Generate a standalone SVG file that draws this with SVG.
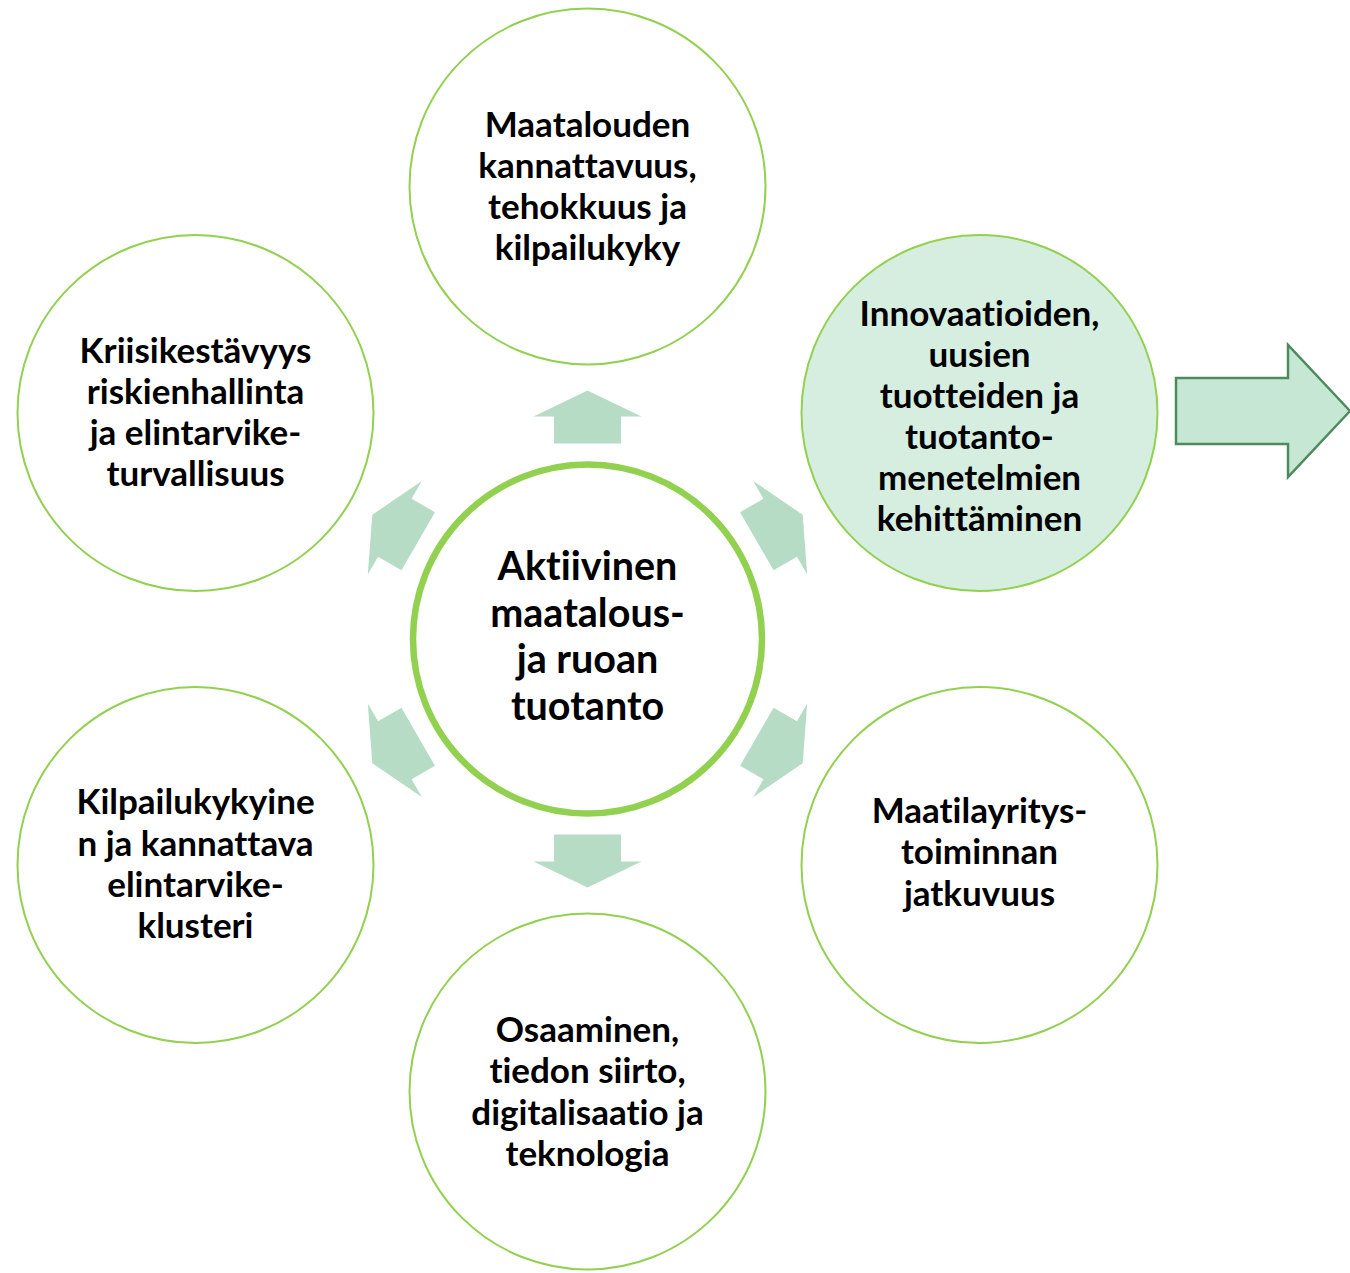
<svg xmlns="http://www.w3.org/2000/svg" width="1350" height="1273" viewBox="0 0 1350 1273">
  <defs>
    <style>
      .node { fill: #ffffff; stroke: #92d050; stroke-width: 2; }
      .hl { fill: #d5eee0; }
      .hub { fill: #ffffff; stroke: #92d050; stroke-width: 6.5; }
      .lbl { font-family: Lato, "Liberation Sans", sans-serif; font-weight: bold; font-size: 35px; fill: #000000; text-anchor: middle; font-variant-ligatures: none; }
      .hubl { font-size: 39.5px; }
      .arr { fill: #b7dcc6; }
    </style>
    <polygon id="ar" points="-33.5,-195.5 33.5,-195.5 33.5,-222.5 54,-222.5 0,-248.5 -54,-222.5 -33.5,-222.5"/>
  </defs>
  <rect width="1350" height="1273" fill="#ffffff"/>
  <g id="connectors">
    <g class="arr" transform="translate(587.5,639)">
      <use href="#ar" transform="rotate(0)"/>
      <use href="#ar" transform="rotate(60)"/>
      <use href="#ar" transform="rotate(120)"/>
      <use href="#ar" transform="rotate(180)"/>
      <use href="#ar" transform="rotate(240)"/>
      <use href="#ar" transform="rotate(300)"/>
    </g>
    <polygon points="1176,378 1288,378 1288,345 1350,411 1288,477 1288,444 1176,444" fill="#c5e7d3" stroke="#4f8a5f" stroke-width="2.5"/>
  </g>
  <g id="hub">
    <circle class="hub" cx="587.5" cy="639" r="174.5"/>
    <text class="lbl hubl"><tspan x="587.5" y="580">Aktiivinen</tspan><tspan x="587.5" y="627">maatalous-</tspan><tspan x="587.5" y="673">ja ruoan</tspan><tspan x="587.5" y="720">tuotanto</tspan></text>
  </g>
  <g id="n-top">
    <circle class="node" cx="587.5" cy="186.5" r="178"/>
    <text class="lbl"><tspan x="587.5" y="136.5">Maatalouden</tspan><tspan x="587.5" y="177.5">kannattavuus,</tspan><tspan x="587.5" y="218.5">tehokkuus ja</tspan><tspan x="587.5" y="259.5">kilpailukyky</tspan></text>
  </g>
  <g id="n-upper-right">
    <circle class="node hl" cx="979.5" cy="413" r="178"/>
    <text class="lbl"><tspan x="979.5" y="325.7">Innovaatioiden,</tspan><tspan x="979.5" y="366.8">uusien</tspan><tspan x="979.5" y="408">tuotteiden ja</tspan><tspan x="979.5" y="449">tuotanto-</tspan><tspan x="979.5" y="490">menetelmien</tspan><tspan x="979.5" y="531">kehittäminen</tspan></text>
  </g>
  <g id="n-lower-right">
    <circle class="node" cx="979.5" cy="865" r="178"/>
    <text class="lbl"><tspan x="979.5" y="822.5">Maatilayritys-</tspan><tspan x="979.5" y="864">toiminnan</tspan><tspan x="979.5" y="905.5">jatkuvuus</tspan></text>
  </g>
  <g id="n-bottom">
    <circle class="node" cx="587.5" cy="1091.5" r="178"/>
    <text class="lbl"><tspan x="587.5" y="1042">Osaaminen,</tspan><tspan x="587.5" y="1083">tiedon siirto,</tspan><tspan x="587.5" y="1124.5">digitalisaatio ja</tspan><tspan x="587.5" y="1165.5">teknologia</tspan></text>
  </g>
  <g id="n-lower-left">
    <circle class="node" cx="195.5" cy="865" r="178"/>
    <text class="lbl"><tspan x="195.5" y="814.3">Kilpailukykyine</tspan><tspan x="195.5" y="855.7">n ja kannattava</tspan><tspan x="195.5" y="897">elintarvike-</tspan><tspan x="195.5" y="938">klusteri</tspan></text>
  </g>
  <g id="n-upper-left">
    <circle class="node" cx="195.5" cy="413" r="178"/>
    <text class="lbl"><tspan x="195.5" y="362.5">Kriisikestävyys</tspan><tspan x="195.5" y="403.5">riskienhallinta</tspan><tspan x="195.5" y="444.5">ja elintarvike-</tspan><tspan x="195.5" y="485.5">turvallisuus</tspan></text>
  </g>
</svg>
